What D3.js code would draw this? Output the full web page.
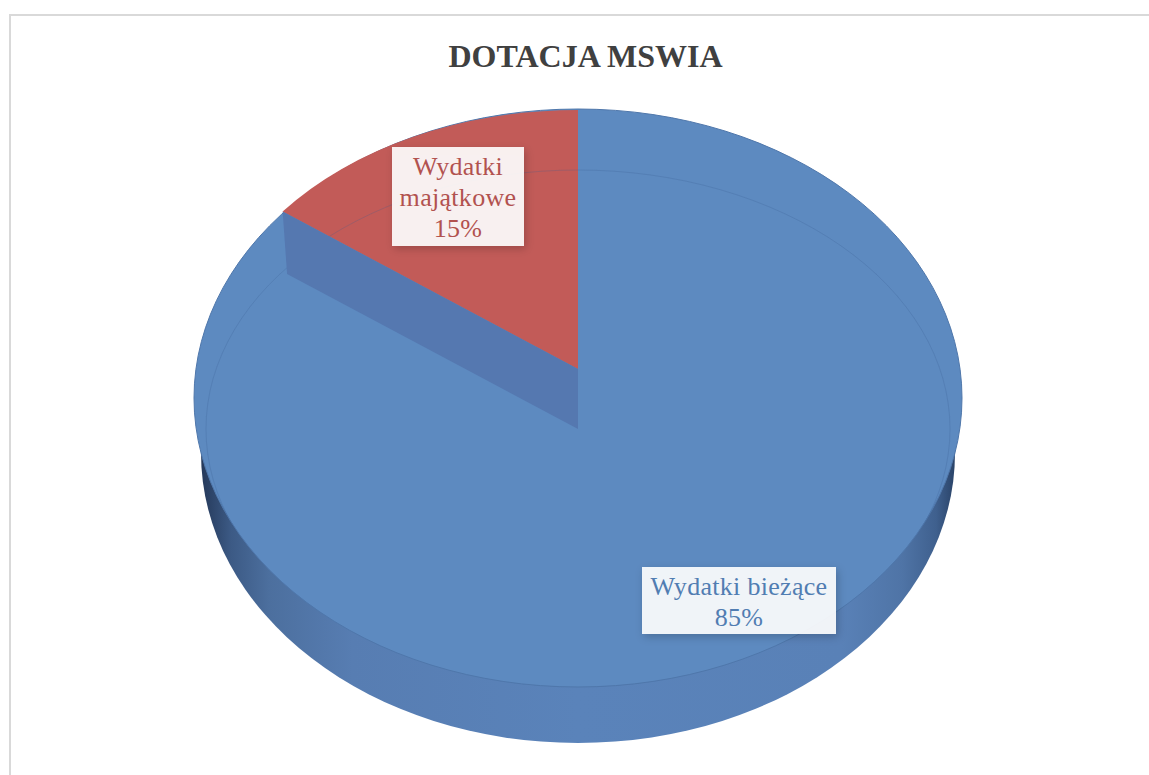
<!DOCTYPE html>
<html>
<head>
<meta charset="utf-8">
<script src="https://cdn.jsdelivr.net/npm/d3@7"></script>
<style>
    html, body { margin: 0; padding: 0; background: #fff; }
    svg { display: block; }
</style>
</head>
<body>
<svg id="chart" width="1149" height="775"></svg>
<script>
"use strict";
const title = "DOTACJA MSWIA";
const categories = ["Wydatki bieżące", "Wydatki majątkowe"];
const sliceValues = [85.4, 14.6];
const labelLines = [["Wydatki bieżące"], ["Wydatki", "majątkowe"]];
const colors = ["#5d8ac0", "#c25b58"];
const textColors = ["#517db2", "#b2524f"];

const svg = d3.select("#chart");
const fmt = d3.format(".0f");

// frame
svg.append("path")
    .attr("d", "M10,775V15H1149")
    .attr("fill", "none")
    .attr("stroke", "#d9d9d9")
    .attr("stroke-width", 2);

svg.append("text")
    .attr("x", 585.5)
    .attr("y", 67)
    .attr("text-anchor", "middle")
    .attr("font-family", "Liberation Serif")
    .attr("font-weight", "bold")
    .attr("font-size", 32)
    .attr("fill", "#404040")
    .text(title);

// pie is tilted, so everything is an ellipse: unit arc + two linear scales
const cx = 578;
const rim = {cy: 398, rx: 384, ry: 289};      // outer silhouette of the top
const face = {cy: 429, rx: 372, ry: 259};     // the big slice
const lifted = {cy: 369, rx: 372, ry: 259};   // small slice sits higher
const base = {cy: 453, rx: 377, ry: 290};     // bottom of the side wall

const unit = d3.arc().innerRadius(0).outerRadius(100);
const place = (e) => `translate(${cx},${e.cy}) scale(${e.rx / 100},${e.ry / 100})`;

const pie = d3.pie().sort(null).startAngle(0).endAngle(2 * Math.PI);
const slices = pie(sliceValues);
const small = slices[1];
const cut = small.startAngle;

const pointOn = (e, angle, r = 1) => {
    const sx = d3.scaleLinear().domain([-1, 1]).range([cx - e.rx, cx + e.rx]);
    const sy = d3.scaleLinear().domain([-1, 1]).range([e.cy - e.ry, e.cy + e.ry]);
    return [sx(r * Math.sin(angle)), sy(-r * Math.cos(angle))];
};

const defs = svg.append("defs");
// bounding box units, the wall path carries a scale transform
const sideGrad = defs.append("linearGradient")
    .attr("id", "side")
    .attr("x1", 0).attr("x2", 1)
    .attr("y1", 0).attr("y2", 0);
[[0, "#25395a"], [0.04, "#3c5a85"], [0.09, "#4c6f9e"], [0.2, "#577db2"], [0.5, "#5a83ba"],
    [0.85, "#5981b7"], [0.93, "#4f74a6"], [0.975, "#3f608e"], [1, "#2a4368"]].forEach(s => {
    sideGrad.append("stop").attr("offset", s[0]).attr("stop-color", s[1]);
});

const shadow = defs.append("filter")
    .attr("id", "boxShadow")
    .attr("x", "-20%").attr("y", "-20%")
    .attr("width", "140%").attr("height", "140%");
shadow.append("feDropShadow")
    .attr("dx", 2).attr("dy", 3)
    .attr("stdDeviation", 4)
    .attr("flood-color", "#000")
    .attr("flood-opacity", 0.22);

defs.append("clipPath").attr("id", "rimClip")
    .append("path")
    .attr("d", unit({startAngle: 0, endAngle: 2 * Math.PI}))
    .attr("transform", place(rim));

// side wall, only the lower half of it shows
svg.append("path")
    .attr("d", unit({startAngle: 0, endAngle: 2 * Math.PI}))
    .attr("transform", place(base))
    .attr("fill", "url(#side)");

// top of the pie
svg.append("path")
    .attr("d", unit({startAngle: 0, endAngle: 2 * Math.PI}))
    .attr("transform", place(rim))
    .attr("fill", colors[0])
    .attr("stroke", "#4f77ab")
    .attr("stroke-width", 1)
    .attr("vector-effect", "non-scaling-stroke");

// small slice
svg.append("path")
    .attr("d", unit(small))
    .attr("transform", place(lifted))
    .attr("fill", colors[1]);

// faint edge of the face
svg.append("g")
    .attr("clip-path", "url(#rimClip)")
    .append("path")
    .attr("d", unit({startAngle: 0, endAngle: 2 * Math.PI}))
    .attr("transform", place(face))
    .attr("fill", "none")
    .attr("stroke", "#3c5f92")
    .attr("stroke-opacity", 0.25)
    .attr("stroke-width", 1)
    .attr("vector-effect", "non-scaling-stroke");

// wall between the two levels
const wall = [
    pointOn(lifted, cut),
    [cx, lifted.cy],
    [cx, face.cy],
    pointOn(face, cut, 0.985)
];
svg.append("path")
    .attr("d", d3.line()(wall) + "Z")
    .attr("fill", "#5578b0");

// labels
const boxes = [
    {x: 642, y: 567, w: 194, h: 67},
    {x: 392, y: 147, w: 132, h: 99}
];
const lineH = 31;
slices.forEach((s, i) => {
    const b = boxes[i];
    const g = svg.append("g").attr("class", "label");
    g.append("rect")
        .attr("x", b.x).attr("y", b.y)
        .attr("width", b.w).attr("height", b.h)
        .attr("fill", "#fff")
        .attr("fill-opacity", 0.9)
        .attr("filter", "url(#boxShadow)");
    const lines = labelLines[i].concat(fmt(s.data) + "%");
    lines.forEach((t, k) => {
        g.append("text")
            .attr("x", b.x + b.w / 2)
            .attr("y", b.y + 28 + k * lineH)
            .attr("text-anchor", "middle")
            .attr("font-family", "Liberation Serif")
            .attr("font-size", 26)
            .attr("letter-spacing", 0.3)
            .attr("fill", textColors[i])
            .text(t);
    });
});
</script>
</body>
</html>
